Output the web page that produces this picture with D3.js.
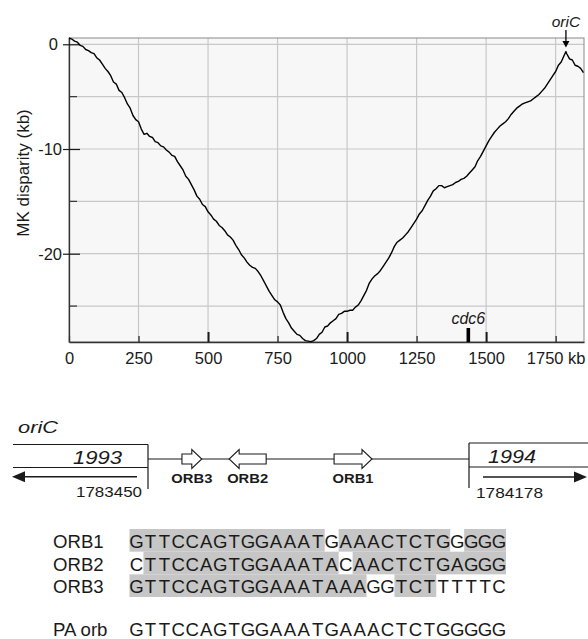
<!DOCTYPE html>
<html>
<head>
<meta charset="utf-8">
<script src="https://cdn.jsdelivr.net/npm/d3@7"></script>
<style>
body { margin: 0; background: #fff; }
svg text { font-family: "Liberation Sans", Arial, sans-serif; fill: #1a1a1a; }
</style>
</head>
<body>
<svg id="fig" width="588" height="639"></svg>
<script>
// position along the genome (kb) and cumulative MK disparity (kb)
var positionKb = [0,10,20,30,40,50,60,70,80,90,100,110,120,130,140,150,160,170,180,190,
  200,210,220,230,240,250,260,270,280,290,300,310,320,330,340,350,360,370,380,390,
  400,410,420,430,440,450,460,470,480,490,500,510,520,530,540,550,560,570,580,590,
  600,610,620,630,640,650,660,670,680,690,700,710,720,730,740,750,760,770,780,790,
  800,810,820,830,840,850,860,870,880,890,900,910,920,930,940,950,960,970,980,990,
  1000,1010,1020,1030,1040,1050,1060,1070,1080,1090,1100,1110,1120,1130,1140,1150,1160,1170,1180,1190,
  1200,1210,1220,1230,1240,1250,1260,1270,1280,1290,1300,1310,1320,1330,1340,1350,1360,1370,1380,1390,
  1400,1410,1420,1430,1440,1450,1460,1470,1480,1490,1500,1510,1520,1530,1540,1550,1560,1570,1580,1590,
  1600,1610,1620,1630,1640,1650,1660,1670,1680,1690,1700,1710,1720,1730,1740,1750,1760,1770,1780,1787,
  1790,1800,1810,1820,1830,1840,1850];
var disparityKb = [0.6,0.5,0.3,0.2,-0.1,-0.2,-0.5,-0.6,-0.8,-0.9,-1.3,-1.5,-1.9,-2.3,-2.6,-3.0,-3.6,-3.8,-4.4,-4.6,
  -5.1,-5.7,-6.1,-6.8,-7.2,-7.4,-8.1,-8.6,-8.5,-8.8,-8.9,-9.3,-9.4,-9.7,-9.8,-10.1,-10.3,-10.6,-10.7,-11.2,
  -11.6,-12.0,-12.6,-12.9,-13.4,-13.9,-14.5,-14.8,-15.3,-15.5,-16.0,-16.3,-16.7,-16.9,-17.3,-17.5,-17.8,-18.2,-18.4,-18.7,
  -19.2,-19.6,-20.1,-20.4,-20.8,-21.1,-21.3,-21.4,-21.7,-22.1,-22.6,-23.1,-23.6,-24.0,-24.4,-24.6,-24.9,-25.6,-26.2,-26.6,
  -27.1,-27.4,-27.7,-27.8,-28.1,-28.3,-28.35,-28.4,-28.3,-28.1,-27.7,-27.5,-27.0,-26.9,-26.6,-26.4,-26.2,-25.8,-25.7,-25.5,
  -25.5,-25.4,-25.4,-25.1,-24.9,-24.5,-24.0,-23.5,-22.8,-22.4,-22.1,-21.9,-21.6,-21.2,-20.8,-20.4,-19.9,-19.3,-18.9,-18.7,
  -18.5,-18.2,-17.9,-17.5,-17.1,-16.7,-16.2,-15.9,-15.4,-14.9,-14.5,-14.0,-13.8,-13.5,-13.5,-13.7,-13.6,-13.5,-13.4,-13.2,
  -13.1,-12.9,-12.8,-12.6,-12.3,-12.0,-11.7,-11.1,-10.7,-10.2,-9.7,-9.2,-8.8,-8.4,-8.1,-7.8,-7.6,-7.4,-7.1,-6.7,
  -6.4,-6.1,-5.9,-5.7,-5.6,-5.5,-5.4,-5.2,-5.0,-4.8,-4.5,-4.2,-3.8,-3.4,-3.0,-2.6,-2.0,-1.7,-1.1,-0.7,
  -0.9,-1.4,-1.5,-2.0,-2.1,-2.3,-2.7];

var xTicks = [0,250,500,750,1000,1250,1500,1750];
var xTickLabels = ["0","250","500","750","1000","1250","1500","1750 kb"];
var yTicks = [0,-10,-20];
var yMinorTicks = [-5,-15,-25];

var cdc6Kb = 1436;
var oriCKb = 1787;

// oriC region, genome coordinates (bp)
var geneNames = ["1993","1994"];
var geneBounds = [1783450,1784178];
var orbNames = ["ORB3","ORB2","ORB1"];
var orbStart = [1783527,1783634,1783872];
var orbEnd   = [1783572,1783718,1783958];
var orbStrand = [1,-1,1];

// ORB alignment
var seqNames = ["ORB1","ORB2","ORB3"];
var seqs = ["GTTCCAGTGGAAATGAAACTCTGGGGG",
            "CTTCCAGTGGAAATACAACTCTGAGGG",
            "GTTCCAGTGGAAATAAAGGTCTTTTTC"];
var seqShaded = [[[0,13],[15,22],[24,26]],
                 [[1,14],[16,26]],
                 [[0,16],[19,21]]];
var consensusName = "PA orb";
var consensusSeq = "GTTCCAGTGGAAATGAAACTCTGGGGG";

var svg = d3.select("#fig");

// ---------- disparity plot ----------
var plot = {left: 69, top: 38, right: 584, bottom: 342};
var x = d3.scaleLinear().domain([0,1852]).range([plot.left,plot.right]);
var y = d3.scaleLinear().domain([-28.43,0.6]).range([plot.bottom,plot.top]);

svg.append("rect")
  .attr("x",plot.left).attr("y",plot.top)
  .attr("width",plot.right-plot.left).attr("height",plot.bottom-plot.top)
  .attr("fill","#f7f7f7");

svg.append("g").selectAll("line").data(xTicks.slice(1)).join("line")
  .attr("x1",d => x(d)).attr("x2",d => x(d)).attr("y1",plot.top).attr("y2",plot.bottom)
  .attr("stroke","#c8c8c8").attr("stroke-width",1.2);

svg.append("g").selectAll("line").data(yTicks.concat(yMinorTicks)).join("line")
  .attr("x1",plot.left).attr("x2",plot.right).attr("y1",d => y(d)).attr("y2",d => y(d))
  .attr("stroke","#c8c8c8").attr("stroke-width",1.2);

svg.append("rect")
  .attr("x",plot.left).attr("y",plot.top)
  .attr("width",plot.right-plot.left).attr("height",plot.bottom-plot.top)
  .attr("fill","none").attr("stroke","#8a8a8a");

var xAxis = svg.append("g")
  .attr("transform",`translate(0,${plot.bottom})`)
  .attr("color","#1a1a1a")
  .call(d3.axisBottom(x).tickValues(xTicks).tickFormat((d,i) => xTickLabels[i])
    .tickSizeInner(-6).tickSizeOuter(0).tickPadding(10));
xAxis.attr("font-family",null).attr("font-size",null);
xAxis.select(".domain").attr("stroke","#333").attr("stroke-width",1.3);
xAxis.selectAll(".tick line").attr("y2",d => (d > 0 && d % 500 === 0) ? -10 : -6)
  .attr("stroke-width",d => (d > 0 && d % 500 === 0) ? 2 : 1.2);
xAxis.selectAll(".tick text").attr("font-size",16.5);

var yAxis = svg.append("g")
  .attr("transform",`translate(${plot.left},0)`)
  .attr("color","#1a1a1a")
  .call(d3.axisLeft(y).tickValues(yTicks).tickFormat(d => String(d))
    .tickSizeInner(6).tickSizeOuter(0).tickPadding(1));
yAxis.attr("font-family",null).attr("font-size",null);
yAxis.select(".domain").attr("stroke","#333").attr("stroke-width",1.3);
yAxis.selectAll(".tick line").attr("x1",11).attr("stroke-width",1.2);
yAxis.selectAll(".tick text").attr("font-size",16.5)
  .attr("dx",d => d === 0 ? -4 : 0);

svg.append("g").selectAll("line").data(yMinorTicks).join("line")
  .attr("x1",plot.left).attr("x2",plot.left+8).attr("y1",d => y(d)).attr("y2",d => y(d))
  .attr("stroke","#333").attr("stroke-width",1.2);

svg.append("text")
  .attr("transform","translate(29,173) rotate(-90)")
  .attr("text-anchor","middle").attr("font-size",17)
  .text("MK disparity (kb)");

svg.append("path")
  .datum(disparityKb)
  .attr("fill","none").attr("stroke","#000").attr("stroke-width",1.4)
  .attr("stroke-linejoin","round")
  .attr("d",d3.line().x((d,i) => x(positionKb[i])).y(d => y(d)));

// cdc6 gene position
svg.append("rect")
  .attr("x",x(cdc6Kb)-1.8).attr("y",plot.bottom-14).attr("width",3.6).attr("height",14)
  .attr("fill","#000");
svg.append("text")
  .attr("x",x(cdc6Kb)).attr("y",324).attr("text-anchor","middle")
  .attr("font-size",16).attr("font-style","italic").text("cdc6");

// oriC arrow
svg.append("text")
  .attr("x",x(oriCKb)).attr("y",27).attr("text-anchor","middle")
  .attr("font-size",15.5).attr("font-style","italic").text("oriC");
svg.append("line")
  .attr("x1",x(oriCKb)).attr("x2",x(oriCKb)).attr("y1",30).attr("y2",42)
  .attr("stroke","#000").attr("stroke-width",1.3);
svg.append("path")
  .attr("d",`M${x(oriCKb)-3.5},41 L${x(oriCKb)+3.5},41 L${x(oriCKb)},47.5 Z`)
  .attr("fill","#000");

// ---------- oriC region map ----------
var g = d3.scaleLinear().domain(geneBounds).range([148,469]);
var ink = "#1a1a1a";
var map = svg.append("g").attr("stroke",ink).attr("stroke-width",1.2);

svg.append("text").attr("x",18).attr("y",433)
  .attr("font-size",17).attr("font-style","italic")
  .attr("textLength",40).attr("lengthAdjust","spacingAndGlyphs").text("oriC");

// gene 1993 (left, reverse strand)
var gl = g(geneBounds[0]);
map.append("line").attr("x1",13).attr("x2",gl).attr("y1",444.5).attr("y2",444.5);
map.append("line").attr("x1",13).attr("x2",gl).attr("y1",467.5).attr("y2",467.5);
map.append("line").attr("x1",gl).attr("x2",gl).attr("y1",444.5).attr("y2",489);
map.append("line").attr("x1",gl-11).attr("x2",22).attr("y1",476.7).attr("y2",476.7).attr("stroke-width",1.4);
map.append("path").attr("d","M12,476.7 L25,471.2 L25,482.2 Z").attr("fill",ink).attr("stroke","none");
svg.append("text").attr("x",73).attr("y",463.5)
  .attr("font-size",17.5).attr("font-style","italic")
  .attr("textLength",49).attr("lengthAdjust","spacingAndGlyphs").text(geneNames[0]);
svg.append("text").attr("x",gl-6).attr("y",497).attr("text-anchor","end")
  .attr("font-size",15).attr("textLength",66).attr("lengthAdjust","spacingAndGlyphs")
  .text(String(geneBounds[0]));

// gene 1994 (right, forward strand)
var gr = g(geneBounds[1]);
map.append("line").attr("x1",gr).attr("x2",588).attr("y1",443).attr("y2",443);
map.append("line").attr("x1",gr).attr("x2",588).attr("y1",467).attr("y2",467);
map.append("line").attr("x1",gr).attr("x2",gr).attr("y1",443).attr("y2",488);
map.append("line").attr("x1",gr+14).attr("x2",575).attr("y1",477).attr("y2",477).attr("stroke-width",1.4);
map.append("path").attr("d","M587,477 L574,471.5 L574,482.5 Z").attr("fill",ink).attr("stroke","none");
svg.append("text").attr("x",488).attr("y",463)
  .attr("font-size",17.5).attr("font-style","italic")
  .attr("textLength",48).attr("lengthAdjust","spacingAndGlyphs").text(geneNames[1]);
svg.append("text").attr("x",gr+7).attr("y",498)
  .attr("font-size",15).attr("textLength",67).attr("lengthAdjust","spacingAndGlyphs")
  .text(String(geneBounds[1]));

// intergenic backbone
map.append("line").attr("x1",gl).attr("x2",gr).attr("y1",459).attr("y2",459);

// ORB boxes
function orbPath(i) {
  var yc = 459, head = 10;
  var tail = orbStrand[i] > 0 ? g(orbStart[i]) : g(orbEnd[i]);
  var tip  = orbStrand[i] > 0 ? g(orbEnd[i]) : g(orbStart[i]);
  var base = tip - orbStrand[i]*head;
  return `M${tail},${yc-5} L${base},${yc-5} L${base},${yc-9.5} L${tip},${yc} ` +
         `L${base},${yc+9.5} L${base},${yc+5} L${tail},${yc+5} Z`;
}
map.selectAll("path.orb").data(orbNames).join("path")
  .attr("class","orb").attr("d",(d,i) => orbPath(i))
  .attr("fill","#fff").attr("stroke-width",1.1);
svg.append("g").selectAll("text").data(orbNames).join("text")
  .attr("x",(d,i) => (g(orbStart[i]) + g(orbEnd[i]))/2).attr("y",482.5)
  .attr("text-anchor","middle").attr("font-size",13.5).attr("font-weight","bold")
  .attr("textLength",41).attr("lengthAdjust","spacingAndGlyphs")
  .text(d => d);

// ---------- alignment ----------
var col = d3.scaleLinear().domain([0,27]).range([129.5,506]);
var row = d3.scaleBand().domain(seqNames).range([529,597]);

var aln = svg.append("g");
seqNames.forEach(function(name, r) {
  aln.append("g").selectAll("rect").data(seqShaded[r]).join("rect")
    .attr("x",d => col(d[0])).attr("width",d => col(d[1]+1) - col(d[0]))
    .attr("y",row(name)).attr("height",row.bandwidth())
    .attr("fill","#c6c6c6");
});
seqNames.forEach(function(name, r) {
  var base = row(name) + 19;
  aln.append("text").attr("x",53).attr("y",base).attr("font-size",18.6).text(name);
  aln.append("g").selectAll("text").data(seqs[r].split("")).join("text")
    .attr("x",(d,i) => col(i+0.5)).attr("y",base)
    .attr("text-anchor","middle").attr("font-size",18.6).text(d => d);
});
aln.append("text").attr("x",53).attr("y",636).attr("font-size",18.6).text(consensusName);
aln.append("g").selectAll("text").data(consensusSeq.split("")).join("text")
  .attr("x",(d,i) => col(i+0.5)).attr("y",636)
  .attr("text-anchor","middle").attr("font-size",18.6).text(d => d);
</script>
</body>
</html>
